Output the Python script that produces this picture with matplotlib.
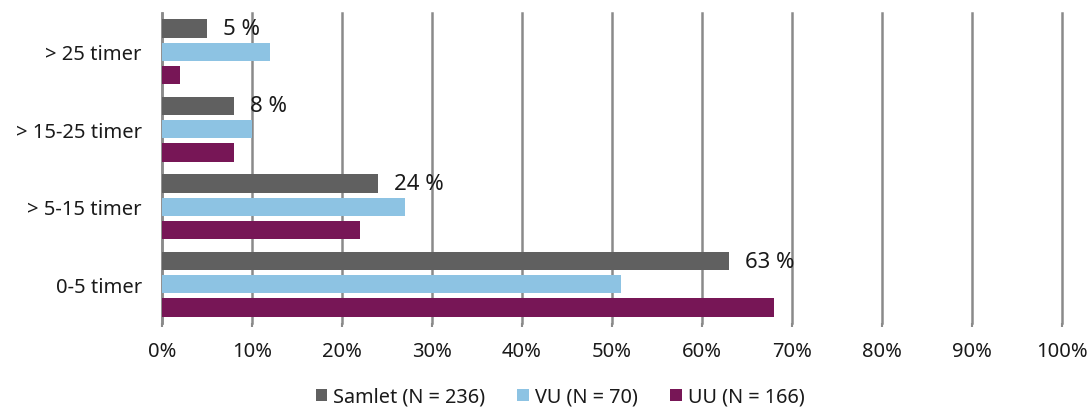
import matplotlib
matplotlib.use("Agg")
import matplotlib.pyplot as plt
import numpy as np

categories = ["0-5 timer", "> 5-15 timer", "> 15-25 timer", "> 25 timer"]
series_names = ["Samlet (N = 236)", "VU (N = 70)", "UU (N = 166)"]
samlet = [63, 24, 8, 5]
vu = [51, 27, 10, 12]
uu = [68, 22, 8, 2]
samlet_labels = ["63 %", "24 %", "8 %", "5 %"]
xticks = [0, 10, 20, 30, 40, 50, 60, 70, 80, 90, 100]
xtick_labels = [f"{v}%" for v in xticks]

colors = ["#606060", "#8DC3E3", "#771656"]

plt.rcParams['font.family'] = ['Noto Sans', 'DejaVu Sans']

fig = plt.figure(figsize=(10.91, 4.10), dpi=100)
ax = fig.add_axes([162/1091, 1-324/410, 900/1091, 310/410])

y = np.arange(len(categories))
step = 0.3
h = 0.235
bars = []
for i, (vals, c, name) in enumerate(zip([samlet, vu, uu], colors, series_names)):
    b = ax.barh(y + step*(1-i), vals, height=h, color=c, label=name, zorder=3)
    bars.append(b)

for yi, v, lab in zip(y, samlet, samlet_labels):
    ax.annotate(lab, xy=(v, yi + step), xytext=(16, 0), textcoords="offset pixels",
                ha="left", va="center", fontsize=16, color="#1a1a1a", zorder=4)

ax.set_xlim(0, 100)
ax.set_ylim(-0.5, 3.5)
ax.set_xticks(xticks)
ax.set_xticklabels(xtick_labels, fontsize=14.5, color="#1a1a1a")
ax.set_yticks(y)
ax.set_yticklabels(categories, fontsize=14.5, color="#1a1a1a")
ax.tick_params(axis="y", length=0, pad=14.5)
ax.tick_params(axis="x", length=3, width=1.5, color="#8a8a8a", pad=10)
ax.xaxis.grid(True, color="#8a8a8a", linewidth=1.8, zorder=0)
for gl in ax.get_xgridlines():
    gl.set_clip_on(False)
ax.set_axisbelow(True)
for s in ["top", "right", "bottom"]:
    ax.spines[s].set_visible(False)
ax.spines["left"].set_color("#8a8a8a")
ax.spines["left"].set_linewidth(1.8)

leg = fig.legend(handles=bars, labels=series_names, loc="center", bbox_to_anchor=(560/1091, 1-398/410),
                 ncol=3, frameon=False, fontsize=14.3, handlelength=0.6, handleheight=0.6,
                 handletextpad=0.3, columnspacing=1.6)
for t in leg.get_texts():
    t.set_color("#1a1a1a")

fig.savefig("out.png", dpi=100)
